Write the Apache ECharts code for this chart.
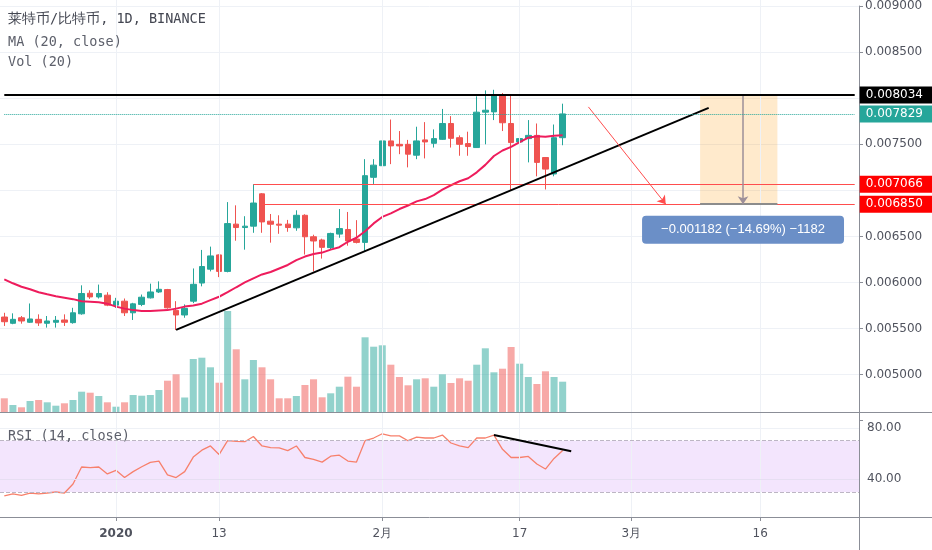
<!DOCTYPE html>
<html lang="zh-CN">
<head>
<meta charset="UTF-8">
<title>莱特币/比特币, 1D, BINANCE</title>
<script src="https://cdn.jsdelivr.net/npm/echarts@6/dist/echarts.min.js"></script>
<style>
    html, body { margin: 0; padding: 0; background: #fff; }
    #chart { width: 932px; height: 550px; }
</style>
</head>
<body>
<div id="chart"></div>
<script>
// LTC/BTC daily candles, 2019-12-19 .. 2020-02-22, prices in 0.001 BTC
var firstDay = Date.UTC(2019, 11, 19);
var dayCount = 100;          // axis runs on to 2020-03-27

var opens = [5.625, 5.557, 5.617, 5.568, 5.600, 5.557, 5.568, 5.593, 5.564, 5.660,
    5.883, 5.843, 5.862, 5.754, 5.797, 5.671, 5.762, 5.833, 5.897, 5.923,
    5.697, 5.647, 5.797, 5.994, 6.144, 6.299, 6.120, 6.633, 6.596, 6.611,
    6.962, 6.665, 6.633, 6.633, 6.593, 6.729, 6.496, 6.461, 6.378, 6.525,
    6.575, 6.471, 6.435, 7.141, 7.267, 7.536, 7.499, 7.499, 7.381, 7.547,
    7.510, 7.553, 7.725, 7.571, 7.507, 7.464, 7.848, 7.851, 8.037, 7.725,
    7.525, 7.561, 7.596, 7.356, 7.177, 7.571];
var closes = [5.574, 5.600, 5.582, 5.604, 5.561, 5.582, 5.589, 5.568, 5.671, 5.880,
    5.843, 5.880, 5.754, 5.797, 5.671, 5.768, 5.840, 5.897, 5.926, 5.725,
    5.647, 5.719, 5.980, 6.173, 6.288, 6.120, 6.639, 6.596, 6.611, 6.862,
    6.657, 6.632, 6.622, 6.596, 6.729, 6.496, 6.450, 6.381, 6.532, 6.585,
    6.450, 6.435, 7.159, 7.273, 7.536, 7.482, 7.482, 7.392, 7.536, 7.525,
    7.561, 7.725, 7.564, 7.499, 7.475, 7.848, 7.869, 8.030, 7.733, 7.518,
    7.561, 7.596, 7.303, 7.230, 7.571, 7.829];
var lows = [5.528, 5.547, 5.553, 5.560, 5.528, 5.510, 5.510, 5.528, 5.553, 5.650,
    5.822, 5.826, 5.743, 5.725, 5.636, 5.593, 5.743, 5.826, 5.886, 5.715,
    5.485, 5.617, 5.776, 5.958, 6.120, 6.058, 6.110, 6.453, 6.356, 6.539,
    6.539, 6.432, 6.528, 6.550, 6.561, 6.303, 6.120, 6.259, 6.356, 6.485,
    6.399, 6.424, 6.335, 7.069, 7.213, 7.284, 7.392, 7.249, 7.338, 7.346,
    7.464, 7.547, 7.464, 7.375, 7.375, 7.460, 7.499, 7.762, 7.643, 6.998,
    7.095, 7.303, 7.152, 7.009, 7.152, 7.489];
var highs = [5.671, 5.665, 5.636, 5.772, 5.654, 5.636, 5.636, 5.654, 5.725, 5.969,
    5.915, 5.977, 5.894, 5.833, 5.826, 5.779, 5.869, 5.987, 6.012, 5.930,
    5.797, 5.762, 6.152, 6.353, 6.389, 6.305, 6.872, 6.837, 6.719, 7.066,
    6.970, 6.743, 6.729, 6.679, 6.783, 6.740, 6.518, 6.475, 6.540, 6.797,
    6.765, 6.676, 7.338, 7.338, 7.714, 7.768, 7.643, 7.547, 7.690, 7.740,
    7.661, 7.883, 7.805, 7.596, 7.636, 8.020, 8.084, 8.091, 8.055, 8.026,
    7.607, 7.762, 7.725, 7.360, 7.714, 7.940];
var ma20 = [6.034, 5.991, 5.953, 5.926, 5.894, 5.872, 5.851, 5.835, 5.819, 5.797,
    5.792, 5.786, 5.770, 5.738, 5.716, 5.700, 5.690, 5.690, 5.697, 5.700,
    5.716, 5.738, 5.749, 5.770, 5.808, 5.845, 5.894, 5.948, 6.001, 6.044,
    6.087, 6.114, 6.152, 6.190, 6.243, 6.281, 6.308, 6.324, 6.356, 6.383,
    6.442, 6.485, 6.555, 6.641, 6.711, 6.749, 6.797, 6.835, 6.880, 6.905,
    6.948, 7.007, 7.055, 7.098, 7.131, 7.195, 7.276, 7.372, 7.432, 7.471,
    7.523, 7.571, 7.587, 7.582, 7.593, 7.598];
// thousand LTC
var volumes = [13.7, 7, 4.7, 11, 12, 9.7, 6.3, 8.7, 12, 20.3,
    19.3, 16, 9.7, 5.3, 9.7, 17, 16.3, 17, 22, 31.3,
    37.7, 14.5, 53, 54.3, 44.7, 29.3, 101, 62.7, 32.7, 52,
    44.7, 32.7, 13.7, 13.7, 16, 27, 32.7, 14.7, 18.7, 25.3,
    35.3, 25.3, 74.7, 65.3, 66.7, 47.3, 35, 26.7, 32.7, 33.7,
    25.3, 37.7, 29, 33.7, 31.3, 47.3, 63.7, 39.7, 43.3, 65,
    48.3, 35, 28, 40.7, 35, 30.3];
var rsi14 = [27, 28.5, 27.4, 29.2, 28.5, 29.2, 30.0, 29.2, 36.2, 49.5,
    49.0, 49.5, 44.1, 46.9, 41.3, 45.9, 49.7, 53.1, 54.1, 43.3,
    41.3, 45.9, 57.2, 62.6, 65.9, 59.2, 70, 69.5, 69.2, 73.3,
    65.9, 64.6, 64.4, 62.3, 65.9, 56.9, 55.4, 53.3, 57.9, 58.7,
    54.1, 53.3, 70, 72.1, 75.4, 73.8, 73.8, 70, 72.8, 72.1,
    72.1, 74.4, 68.2, 65.9, 64.6, 72.1, 72.1, 74.4, 63.3, 56.9,
    56.9, 57.7, 51.8, 47.9, 56.2, 62.3];

var tickDates = ['2020-01-01', '2020-01-13', '2020-02-01', '2020-02-17', '2020-03-01', '2020-03-16'];
var tickLabels = ['2020', '13', '2月', '17', '3月', '16'];

// drawing levels (BTC)
var resistance = 0.008034;
var lastPrice = 0.007829;
var supportHigh = 0.007066;
var supportLow = 0.006850;

var FONT = 'DejaVu Sans';
var MONO = 'DejaVu Sans Mono';
var UP = '#26a69a', DOWN = '#ef5350';
var GRID_LINE = '#eef1f6', AXIS = '#8b8e97', TEXT = '#50535e';

var dates = [];
for (var i = 0; i < dayCount; i++) {
    dates.push(new Date(firstDay + i * 864e5).toISOString().slice(0, 10));
}
var firstDate = dates[0], lastDate = dates[dayCount - 1];

var milli = function (v) { return v / 1000; };
var candles = opens.map(function (o, i) {
    return [milli(o), milli(closes[i]), milli(lows[i]), milli(highs[i])];
});

function tag(bg, value, dist) {
    return {
        show: true, position: 'end', distance: dist, formatter: value.toFixed(6),
        backgroundColor: bg, color: '#fff', padding: [3, 12, 2, 6],
        fontSize: 12, fontFamily: FONT
    };
}

function catAxis(grid, extra) {
    var a = {
        type: 'category', gridIndex: grid, data: dates, boundaryGap: true,
        axisLine: {show: false}, axisTick: {show: false}, axisLabel: {show: false},
        splitLine: {show: false}
    };
    for (var k in extra) a[k] = extra[k];
    return a;
}

var vGrid = tickDates.map(function (d) { return {xAxis: d}; });
var priceSplit = ['rgba(0,0,0,0)'];
for (var j = 0; j < 9; j++) priceSplit.push(GRID_LINE);

var chart = echarts.init(document.getElementById('chart'));
chart.setOption({
    animation: false,
    backgroundColor: '#fff',
    title: [
        {text: '莱特币/比特币, 1D, BINANCE', left: 8, top: 12, padding: 0,
            textStyle: {fontFamily: MONO, fontSize: 13.5, fontWeight: 'normal', color: '#434651'}},
        {text: 'MA (20, close)', left: 8, top: 35, padding: 0,
            textStyle: {fontFamily: MONO, fontSize: 13.5, fontWeight: 'normal', color: '#5d606b'}},
        {text: 'Vol (20)', left: 8, top: 55, padding: 0,
            textStyle: {fontFamily: MONO, fontSize: 13.5, fontWeight: 'normal', color: '#5d606b'}},
        {text: 'RSI (14, close)', left: 8, top: 429, padding: 0,
            textStyle: {fontFamily: MONO, fontSize: 13.5, fontWeight: 'normal', color: '#5d606b'}}
    ],
    // pane separators continued under the price scale
    graphic: [
        {type: 'line', silent: true, shape: {x1: 859, y1: 412.5, x2: 932, y2: 412.5}, style: {stroke: AXIS, lineWidth: 1}},
        {type: 'line', silent: true, shape: {x1: 859, y1: 517.5, x2: 932, y2: 517.5}, style: {stroke: AXIS, lineWidth: 1}},
        {type: 'line', silent: true, shape: {x1: 859.5, y1: 517, x2: 859.5, y2: 550}, style: {stroke: AXIS, lineWidth: 1}}
    ],
    grid: [
        {left: 0, right: 73, top: 2.2, height: 418.5},
        {left: 0, right: 73, top: 0, height: 412},
        {left: 0, right: 73, top: 413, height: 104}
    ],
    xAxis: [
        catAxis(0, {}),
        catAxis(1, {axisLine: {show: true, lineStyle: {color: AXIS}}}),
        catAxis(2, {
            axisLine: {show: true, lineStyle: {color: AXIS}},
            axisTick: {
                show: true, alignWithLabel: true, length: 4, lineStyle: {color: AXIS},
                interval: function (idx, v) { return tickDates.indexOf(v) >= 0; }
            },
            axisLabel: {
                show: true, margin: 11, color: TEXT, fontFamily: FONT, fontSize: 12,
                interval: function (idx, v) { return tickDates.indexOf(v) >= 0; },
                formatter: function (v) {
                    var l = tickLabels[tickDates.indexOf(v)] || '';
                    return l === '2020' ? '{b|' + l + '}' : l;
                },
                rich: {b: {fontWeight: 'bold', color: TEXT, fontFamily: FONT, fontSize: 12}}
            }
        })
    ],
    yAxis: [
        {
            type: 'value', gridIndex: 0, position: 'right', min: 0.0045, max: 0.009, interval: 0.0005,
            axisLine: {show: true, lineStyle: {color: AXIS}},
            axisTick: {show: true, length: 4, lineStyle: {color: AXIS}},
            axisLabel: {
                margin: 6, color: TEXT, fontFamily: FONT, fontSize: 12,
                formatter: function (v) {
                    var s = v.toFixed(6);
                    return (s === '0.004500' || s === '0.007000' || s === '0.008000') ? '' : s;
                }
            },
            splitLine: {show: true, lineStyle: {color: priceSplit, width: 1}}
        },
        {type: 'value', gridIndex: 1, min: 0, max: 412, show: false},
        {
            type: 'value', gridIndex: 2, position: 'right', min: 10.5, max: 91.6,
            axisLine: {show: true, lineStyle: {color: AXIS}},
            axisTick: {show: false}, axisLabel: {show: false}, splitLine: {show: false}
        }
    ],
    series: [
        {
            name: 'Vol', type: 'bar', xAxisIndex: 1, yAxisIndex: 1, data: volumes,
            barCategoryGap: '18%', z: 1,
            itemStyle: {
                color: function (p) {
                    return closes[p.dataIndex] >= opens[p.dataIndex] ?
                        'rgba(38,166,154,0.5)' : 'rgba(239,83,80,0.5)';
                }
            },
            markLine: {
                silent: true, symbol: 'none', animation: false, label: {show: false},
                lineStyle: {color: GRID_LINE, width: 1, type: 'solid'}, data: vGrid
            }
        },
        {
            name: 'LTC/BTC', type: 'candlestick', xAxisIndex: 0, yAxisIndex: 0, data: candles,
            barWidth: 6, clip: false, z: 3,
            itemStyle: {color: UP, color0: DOWN, borderColor: UP, borderColor0: DOWN, borderWidth: 1},
            markArea: {
                silent: true, animation: false,
                itemStyle: {color: 'rgba(255,152,0,0.2)'},
                data: [[{coord: ['2020-03-09', resistance]}, {coord: ['2020-03-18', supportLow]}]]
            },
            markLine: {
                silent: true, symbol: 'none', animation: false, label: {show: false},
                lineStyle: {type: 'solid', width: 1},
                data: [
                    [{coord: ['2020-01-17', supportHigh], lineStyle: {color: '#ff4d4d'}, label: tag('#ff0000', supportHigh, 5)},
                        {coord: [lastDate, supportHigh]}],
                    [{coord: ['2020-01-18', supportLow], lineStyle: {color: '#ff4d4d'}, label: tag('#ff0000', supportLow, 5)},
                        {coord: [lastDate, supportLow]}],
                    // rising trend line
                    [{coord: ['2020-01-08', 0.005485], lineStyle: {color: '#000', width: 2}},
                        {coord: ['2020-03-10', 0.007894]}],
                    // target arrow
                    [{coord: ['2020-02-25', 0.007905], lineStyle: {color: '#ff4d4d', width: 1}},
                        {coord: ['2020-03-05', supportLow], symbol: 'arrow', symbolSize: 8}],
                    // measure box edges and arrow
                    [{coord: ['2020-03-09', resistance], lineStyle: {color: '#8c8c8c', width: 2}},
                        {coord: ['2020-03-18', resistance]}],
                    [{coord: ['2020-03-09', supportLow], lineStyle: {color: '#8c8c8c', width: 2}},
                        {coord: ['2020-03-18', supportLow]}],
                    [{coord: ['2020-03-14', resistance], lineStyle: {color: '#9d8f99', width: 1.5}},
                        {coord: ['2020-03-14', supportLow], symbol: 'arrow', symbolSize: 8}]
                ]
            },
            markPoint: {
                silent: true, animation: false,
                data: [{
                    coord: ['2020-03-14', 0.006571], symbol: 'circle', symbolSize: 1,
                    itemStyle: {color: 'rgba(0,0,0,0)'},
                    label: {
                        show: true, position: 'inside', color: '#fff', fontSize: 13,
                        fontFamily: 'Liberation Sans',
                        backgroundColor: '#6b8fc7', borderRadius: 4, padding: [8, 19, 7, 19],
                        formatter: '\u22120.001182 (\u221214.69%) \u22121182'
                    }
                }]
            }
        },
        {
            name: 'MA', type: 'line', xAxisIndex: 0, yAxisIndex: 0, data: ma20.map(milli),
            symbol: 'none', z: 4, clip: false, lineStyle: {color: '#ee1c5c', width: 2},
            markLine: {
                silent: true, symbol: 'none', animation: false, label: {show: false},
                lineStyle: {type: 'solid', width: 1},
                data: [
                    [{coord: [firstDate, resistance], lineStyle: {color: '#000', width: 2}, label: tag('#000', resistance, 5)},
                        {coord: [lastDate, resistance]}],
                    [{coord: [firstDate, lastPrice], lineStyle: {color: UP, width: 1, type: 'dotted'}, label: tag(UP, lastPrice, 5)},
                        {coord: [lastDate, lastPrice]}]
                ]
            }
        },
        {
            name: 'RSI', type: 'line', xAxisIndex: 2, yAxisIndex: 2, data: rsi14,
            symbol: 'none', clip: false, z: 3, lineStyle: {color: '#f7806c', width: 1.3},
            markArea: {
                silent: true, animation: false,
                itemStyle: {color: 'rgba(156,39,240,0.12)'},
                data: [[{yAxis: 30}, {yAxis: 70}]]
            },
            markLine: {
                silent: true, symbol: 'none', animation: false, label: {show: false},
                lineStyle: {type: 'solid', width: 1, color: GRID_LINE},
                data: vGrid.concat([
                    {yAxis: 80, label: {show: true, position: 'end', distance: 8, formatter: '80.00',
                        color: TEXT, fontSize: 12, fontFamily: FONT}},
                    {yAxis: 40, lineStyle: {color: '#e6def2'}, label: {show: true, position: 'end', distance: 8,
                        formatter: '40.00', color: TEXT, fontSize: 12, fontFamily: FONT}},
                    {yAxis: 70, lineStyle: {color: '#bdb6c4', type: 'dashed'}},
                    {yAxis: 30, lineStyle: {color: '#bdb6c4', type: 'dashed'}},
                    [{coord: ['2020-02-14', 74.4], lineStyle: {color: '#000', width: 2}},
                        {coord: ['2020-02-23', 61.8]}]
                ])
            }
        }
    ]
});
</script>
</body>
</html>
